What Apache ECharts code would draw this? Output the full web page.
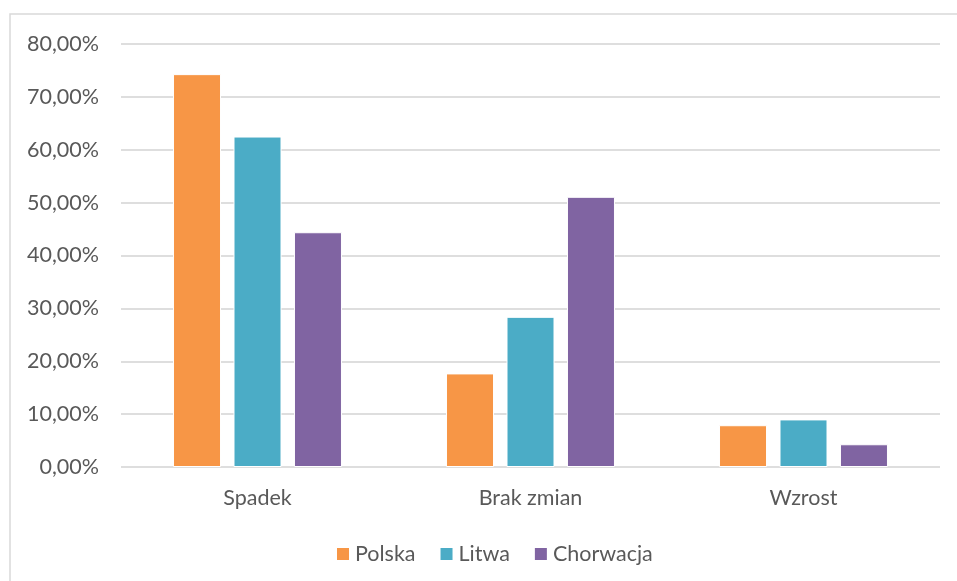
<!DOCTYPE html>
<html>
<head>
<meta charset="utf-8">
<script src="https://cdn.jsdelivr.net/npm/echarts@6/dist/echarts.min.js"></script>
<style>
  html, body { margin: 0; padding: 0; background: #fff; }
  #chart { width: 957px; height: 581px; }
</style>
</head>
<body>
<div id="chart"></div>
<script>
  const categories = ['Spadek', 'Brak zmian', 'Wzrost']
  const seriesNames = ['Polska', 'Litwa', 'Chorwacja']
  const polska = [74.3, 17.7, 7.9]
  const litwa = [62.5, 28.4, 9.0]
  const chorwacja = [44.4, 51.1, 4.3]
  const colors = ['#F79646', '#4BACC6', '#8064A2']

  const font = 'Lato, "Open Sans", sans-serif'
  const textColor = '#595959'

  const chart = echarts.init(document.getElementById('chart'))

  const fmt = (v) => v.toFixed(2).replace('.', ',') + '%'

  chart.setOption({
    animation: false,
    color: colors,
    textStyle: { fontFamily: font },
    graphic: [
      {
        type: 'rect',
        shape: { x: 10, y: 14, width: 960, height: 600 },
        style: { fill: 'none', stroke: '#d9d9d9', lineWidth: 1.5 },
        silent: true,
      },
    ],
    grid: {
      top: 44,
      left: 121,
      right: 17,
      bottom: 114,
    },
    legend: {
      left: 330,
      top: 538,
      itemWidth: 14,
      itemHeight: 14,
      itemGap: 23,
      icon: 'rect',
      textStyle: { fontFamily: font, fontSize: 21.5, color: textColor },
      data: seriesNames,
    },
    xAxis: {
      type: 'category',
      data: categories,
      axisTick: { show: false },
      axisLine: { show: false },
      axisLabel: { margin: 20, fontSize: 21.5, color: textColor, fontFamily: font },
    },
    yAxis: {
      type: 'value',
      min: 0,
      max: 80,
      interval: 10,
      axisLabel: {
        margin: 22,
        fontSize: 21.5,
        color: textColor,
        fontFamily: font,
        formatter: fmt,
      },
      axisLine: { show: false },
      axisTick: { show: false },
      splitLine: { lineStyle: { color: '#dedede', width: 2 } },
    },
    series: [polska, litwa, chorwacja].map((d, i) => ({
      name: seriesNames[i],
      type: 'bar',
      data: d,
      barWidth: 48,
      barGap: '26%',
      itemStyle: { borderColor: '#fff', borderWidth: 1 },
    })),
  })
</script>
</body>
</html>
